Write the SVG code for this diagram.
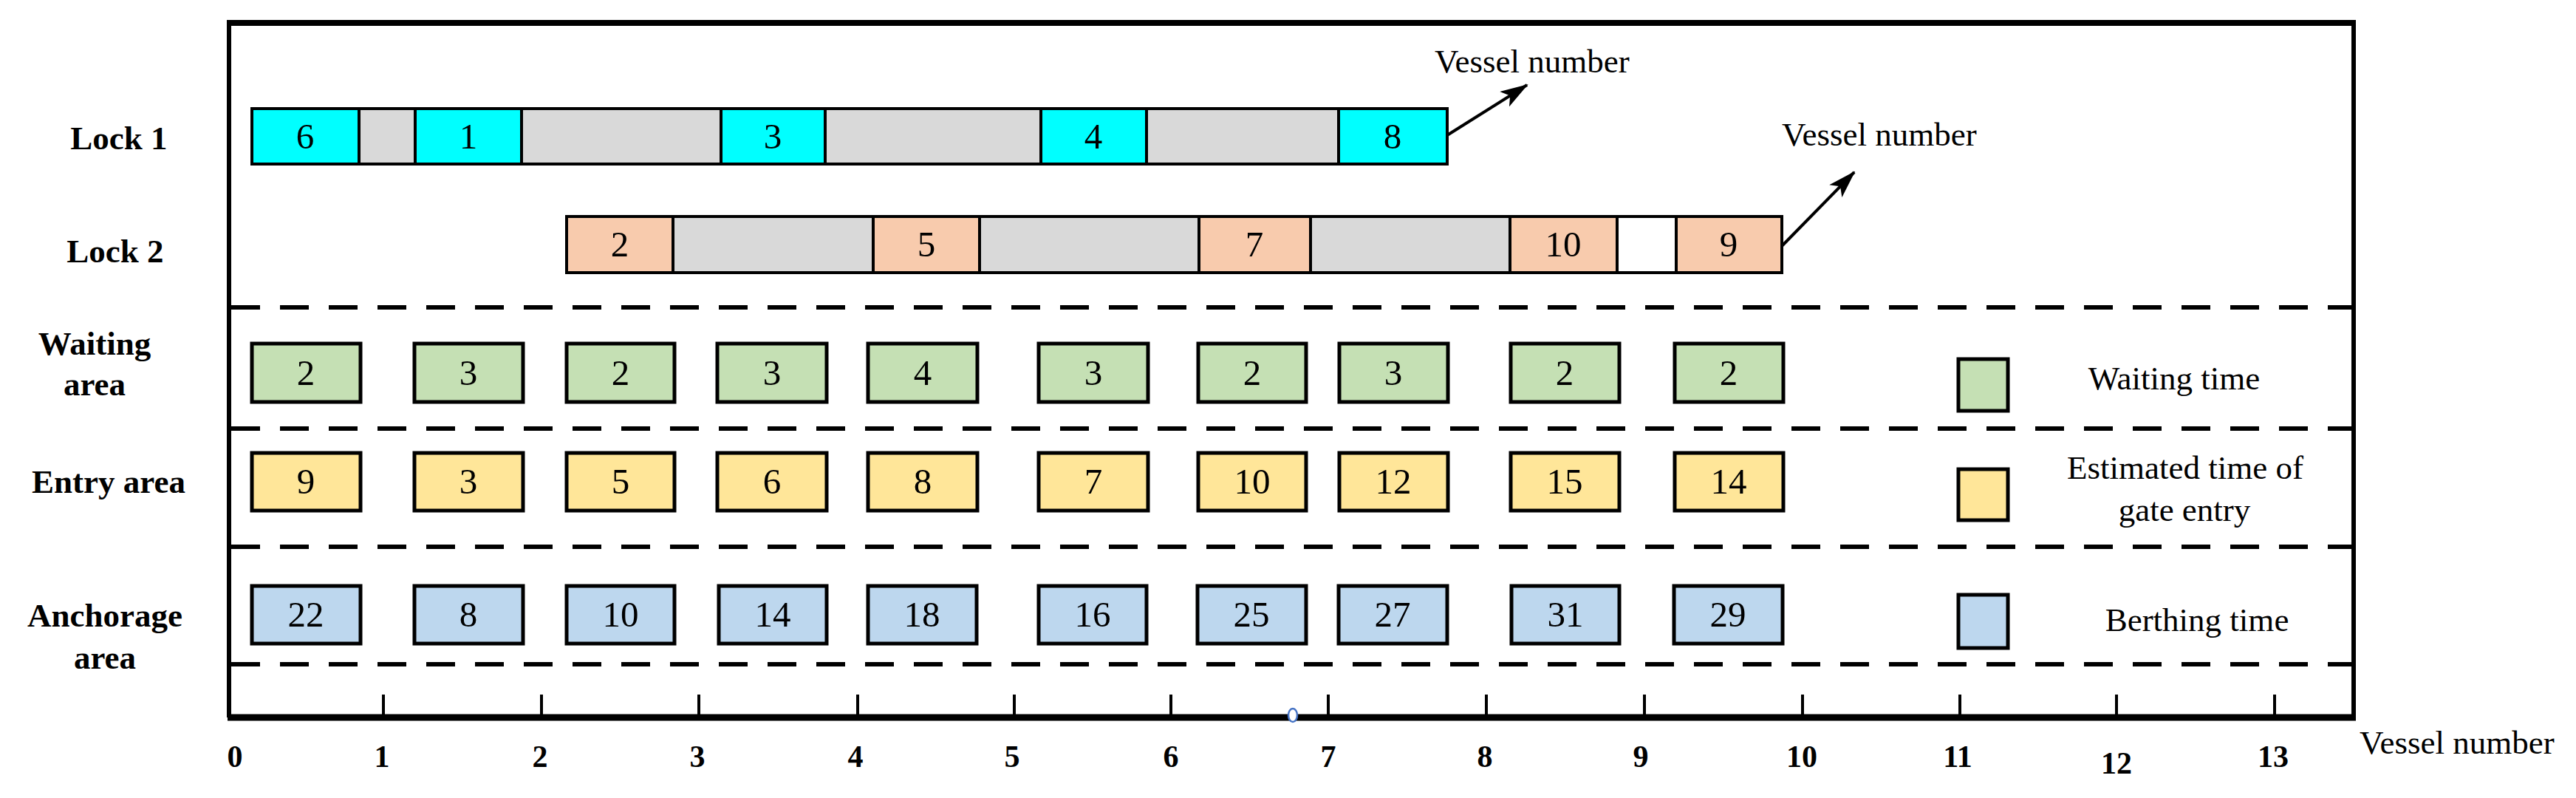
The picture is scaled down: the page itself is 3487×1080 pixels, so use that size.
<svg xmlns="http://www.w3.org/2000/svg" width="3487" height="1080" viewBox="0 0 3487 1080">
<style>
.t{font-family:"Liberation Serif","Times New Roman",serif;fill:#000}
.lbl{font-size:45px;font-weight:bold;text-anchor:middle}
.leg{font-size:45px;text-anchor:middle}
.num{font-size:49px;text-anchor:middle}
.tick{font-size:42px;font-weight:bold;text-anchor:middle}
.cell{stroke:#000;stroke-width:4}
.cy{fill:#00FFFF}.gy{fill:#D9D9D9}.pe{fill:#F8CBAD}.wh{fill:#FFFFFF}
.gr{fill:#C5E0B4}.ye{fill:#FFE699}.bl{fill:#BDD7EE}
.box{stroke:#000;stroke-width:5}
.dash{stroke:#000;stroke-width:6;stroke-dasharray:39 27;fill:none}
.arr{stroke:#000;stroke-width:4;fill:none}
</style>
<defs>
<marker id="ahb" viewBox="0 0 38 24" refX="36" refY="12" markerWidth="38" markerHeight="24" orient="auto" markerUnits="userSpaceOnUse">
<path d="M0,0 L38,12 L0,24 L9,12 z" fill="#000"/>
</marker>
</defs>
<rect width="3487" height="1080" fill="#fff"/>

<g id="frame">
<line x1="310" y1="31" x2="3186" y2="31" stroke="#000" stroke-width="8"/>
<line x1="310" y1="27" x2="310" y2="971" stroke="#000" stroke-width="6"/>
<line x1="3186" y1="27" x2="3186" y2="975" stroke="#000" stroke-width="6"/>
</g>

<g id="axis">
<line x1="308" y1="971" x2="3189" y2="971" stroke="#000" stroke-width="9"/>
<g stroke="#000" stroke-width="4">
<line x1="519" y1="940" x2="519" y2="971"/>
<line x1="733" y1="940" x2="733" y2="971"/>
<line x1="946" y1="940" x2="946" y2="971"/>
<line x1="1161" y1="940" x2="1161" y2="971"/>
<line x1="1373" y1="940" x2="1373" y2="971"/>
<line x1="1585" y1="940" x2="1585" y2="971"/>
<line x1="1798" y1="940" x2="1798" y2="971"/>
<line x1="2012" y1="940" x2="2012" y2="971"/>
<line x1="2226" y1="940" x2="2226" y2="971"/>
<line x1="2440" y1="940" x2="2440" y2="971"/>
<line x1="2653" y1="940" x2="2653" y2="971"/>
<line x1="2865" y1="940" x2="2865" y2="971"/>
<line x1="3079" y1="940" x2="3079" y2="971"/>
</g>
<ellipse cx="1750" cy="968" rx="6" ry="9" fill="#fff" stroke="#4472C4" stroke-width="2.5"/>
<g class="t tick">
<text x="318" y="1038">0</text>
<text x="517" y="1038">1</text>
<text x="731" y="1038">2</text>
<text x="944" y="1038">3</text>
<text x="1158" y="1038">4</text>
<text x="1370" y="1038">5</text>
<text x="1585" y="1038">6</text>
<text x="1798" y="1038">7</text>
<text x="2010" y="1038">8</text>
<text x="2221" y="1038">9</text>
<text x="2439" y="1038">10</text>
<text x="2650" y="1038">11</text>
<text x="2865" y="1047">12</text>
<text x="3077" y="1038">13</text>
</g>
<text class="t" x="3194" y="1020" font-size="45">Vessel number</text>
</g>

<g id="separators">
<line class="dash" x1="313" y1="416" x2="3184" y2="416"/>
<line class="dash" x1="313" y1="580" x2="3184" y2="580"/>
<line class="dash" x1="313" y1="740" x2="3184" y2="740"/>
<line class="dash" x1="313" y1="899" x2="3184" y2="899"/>
</g>

<g id="row-labels" class="t lbl">
<text x="161" y="202">Lock 1</text>
<text x="156" y="355">Lock 2</text>
<text x="128" y="480">Waiting</text>
<text x="128" y="535">area</text>
<text x="147" y="667">Entry area</text>
<text x="142" y="848">Anchorage</text>
<text x="142" y="905">area</text>
</g>

<g id="lock1">
<rect class="cell cy" x="341" y="147" width="145" height="75"/>
<rect class="cell gy" x="486" y="147" width="76" height="75"/>
<rect class="cell cy" x="562" y="147" width="144" height="75"/>
<rect class="cell gy" x="706" y="147" width="270" height="75"/>
<rect class="cell cy" x="976" y="147" width="141" height="75"/>
<rect class="cell gy" x="1117" y="147" width="292" height="75"/>
<rect class="cell cy" x="1409" y="147" width="143" height="75"/>
<rect class="cell gy" x="1552" y="147" width="260" height="75"/>
<rect class="cell cy" x="1812" y="147" width="147" height="75"/>
<g class="t num">
<text x="413" y="201">6</text>
<text x="634" y="201">1</text>
<text x="1046" y="201">3</text>
<text x="1480" y="201">4</text>
<text x="1885" y="201">8</text>
</g>
</g>

<g id="lock2">
<rect class="cell pe" x="767" y="293" width="144" height="76"/>
<rect class="cell gy" x="911" y="293" width="271" height="76"/>
<rect class="cell pe" x="1182" y="293" width="144" height="76"/>
<rect class="cell gy" x="1326" y="293" width="297" height="76"/>
<rect class="cell pe" x="1623" y="293" width="151" height="76"/>
<rect class="cell gy" x="1774" y="293" width="270" height="76"/>
<rect class="cell pe" x="2044" y="293" width="145" height="76"/>
<rect class="cell wh" x="2189" y="293" width="80" height="76"/>
<rect class="cell pe" x="2269" y="293" width="143" height="76"/>
<g class="t num">
<text x="839" y="347">2</text>
<text x="1254" y="347">5</text>
<text x="1698" y="347">7</text>
<text x="2116" y="347">10</text>
<text x="2340" y="347">9</text>
</g>
</g>

<g id="connectors">
<line class="arr" x1="1959" y1="183" x2="2067" y2="115" marker-end="url(#ahb)"/>
<line class="arr" x1="2412" y1="333" x2="2510" y2="233" marker-end="url(#ahb)"/>
</g>
<g id="vessel-labels" class="t">
<text x="1942" y="98" font-size="45">Vessel number</text>
<text x="2412" y="197" font-size="45">Vessel number</text>
</g>

<g id="waiting">
<rect class="box gr" x="341" y="465" width="147" height="79"/>
<rect class="box gr" x="561" y="465" width="147" height="79"/>
<rect class="box gr" x="767" y="465" width="146" height="79"/>
<rect class="box gr" x="971" y="465" width="148" height="79"/>
<rect class="box gr" x="1175" y="465" width="148" height="79"/>
<rect class="box gr" x="1406" y="465" width="148" height="79"/>
<rect class="box gr" x="1622" y="465" width="146" height="79"/>
<rect class="box gr" x="1813" y="465" width="147" height="79"/>
<rect class="box gr" x="2045" y="465" width="147" height="79"/>
<rect class="box gr" x="2267" y="465" width="147" height="79"/>
<g class="t num">
<text x="414" y="521">2</text>
<text x="634" y="521">3</text>
<text x="840" y="521">2</text>
<text x="1045" y="521">3</text>
<text x="1249" y="521">4</text>
<text x="1480" y="521">3</text>
<text x="1695" y="521">2</text>
<text x="1886" y="521">3</text>
<text x="2118" y="521">2</text>
<text x="2340" y="521">2</text>
</g>
</g>

<g id="entry">
<rect class="box ye" x="341" y="613" width="147" height="78"/>
<rect class="box ye" x="561" y="613" width="147" height="78"/>
<rect class="box ye" x="767" y="613" width="146" height="78"/>
<rect class="box ye" x="971" y="613" width="148" height="78"/>
<rect class="box ye" x="1175" y="613" width="148" height="78"/>
<rect class="box ye" x="1406" y="613" width="148" height="78"/>
<rect class="box ye" x="1622" y="613" width="146" height="78"/>
<rect class="box ye" x="1813" y="613" width="147" height="78"/>
<rect class="box ye" x="2045" y="613" width="147" height="78"/>
<rect class="box ye" x="2267" y="613" width="147" height="78"/>
<g class="t num">
<text x="414" y="668">9</text>
<text x="634" y="668">3</text>
<text x="840" y="668">5</text>
<text x="1045" y="668">6</text>
<text x="1249" y="668">8</text>
<text x="1480" y="668">7</text>
<text x="1695" y="668">10</text>
<text x="1886" y="668">12</text>
<text x="2118" y="668">15</text>
<text x="2340" y="668">14</text>
</g>
</g>

<g id="anchorage">
<rect class="box bl" x="341" y="793" width="147" height="78"/>
<rect class="box bl" x="561" y="793" width="147" height="78"/>
<rect class="box bl" x="767" y="793" width="146" height="78"/>
<rect class="box bl" x="973" y="793" width="146" height="78"/>
<rect class="box bl" x="1175" y="793" width="147" height="78"/>
<rect class="box bl" x="1406" y="793" width="146" height="78"/>
<rect class="box bl" x="1621" y="793" width="147" height="78"/>
<rect class="box bl" x="1812" y="793" width="147" height="78"/>
<rect class="box bl" x="2046" y="793" width="146" height="78"/>
<rect class="box bl" x="2266" y="793" width="147" height="78"/>
<g class="t num">
<text x="414" y="848">22</text>
<text x="634" y="848">8</text>
<text x="840" y="848">10</text>
<text x="1046" y="848">14</text>
<text x="1248" y="848">18</text>
<text x="1479" y="848">16</text>
<text x="1694" y="848">25</text>
<text x="1885" y="848">27</text>
<text x="2119" y="848">31</text>
<text x="2339" y="848">29</text>
</g>
</g>

<g id="legend">
<rect class="box gr" x="2651" y="486" width="67" height="70"/>
<text class="t leg" x="2943" y="527">Waiting time</text>
<rect class="box ye" x="2651" y="635" width="67" height="69"/>
<text class="t leg" x="2958" y="648">Estimated time of</text>
<text class="t leg" x="2957" y="705">gate entry</text>
<rect class="box bl" x="2651" y="805" width="67" height="72"/>
<text class="t leg" x="2974" y="854">Berthing time</text>
</g>
</svg>
